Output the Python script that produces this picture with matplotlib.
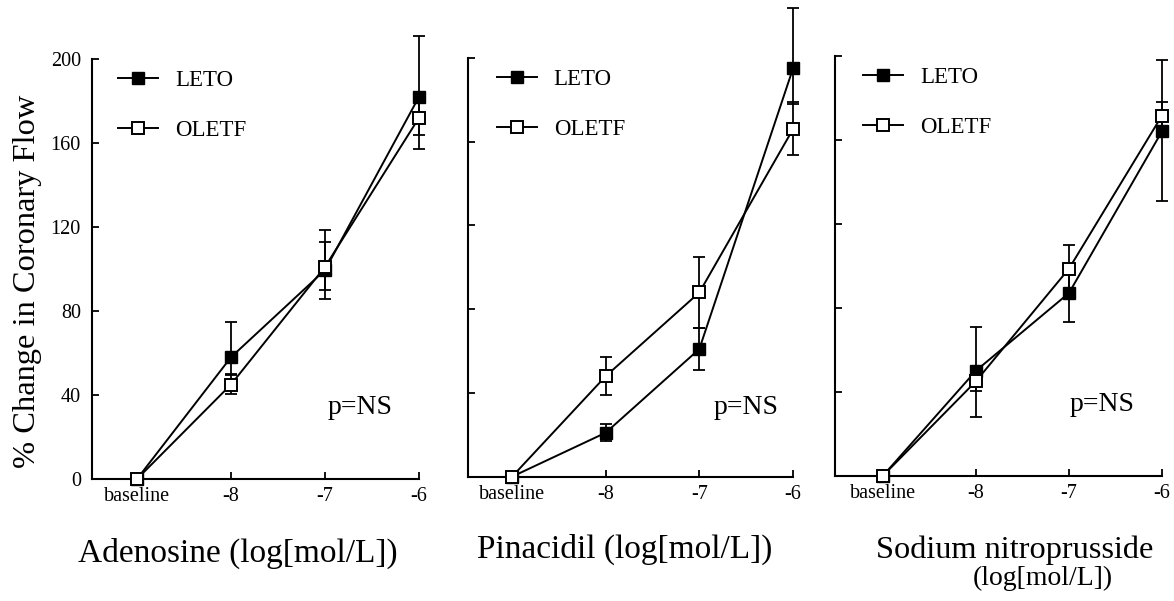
import numpy as np
import matplotlib
matplotlib.use("Agg")
import matplotlib.pyplot as plt
from matplotlib.lines import Line2D

plt.rcParams['font.family'] = ['Liberation Serif', 'DejaVu Serif']

# ---- data ----
x_labels = ["baseline", "-8", "-7", "-6"]
y_ticks = [0, 40, 80, 120, 160, 200]
panel_titles = ["Adenosine (log[mol/L])", "Pinacidil (log[mol/L])",
                "Sodium nitroprusside", "(log[mol/L])"]
series_names = ["LETO", "OLETF"]

aden_leto = [0, 58, 99.5, 182]
aden_leto_lo = [0, 8, 14, 18]
aden_leto_hi = [0, 17, 19, 29]
aden_oletf = [0, 45, 101, 172]
aden_oletf_lo = [0, 4.5, 11, 15]
aden_oletf_hi = [0, 4.5, 12, 10]

pina_leto = [0, 21, 61, 195]
pina_leto_lo = [0, 4, 10, 17]
pina_leto_hi = [0, 4, 10, 29]
pina_oletf = [0, 48, 88, 166]
pina_oletf_lo = [0, 9, 17, 12.5]
pina_oletf_hi = [0, 9, 17, 13]

snp_leto = [0, 50, 87, 164]
snp_leto_lo = [0, 22, 14, 33]
snp_leto_hi = [0, 21, 14, 34]
snp_oletf = [0, 45, 98.6, 171.5]
snp_oletf_lo = [0, 4.5, 11, 7]
snp_oletf_hi = [0, 5, 11.4, 6.5]

panels = [
    (aden_leto, aden_leto_lo, aden_leto_hi, aden_oletf, aden_oletf_lo, aden_oletf_hi),
    (pina_leto, pina_leto_lo, pina_leto_hi, pina_oletf, pina_oletf_lo, pina_oletf_hi),
    (snp_leto, snp_leto_lo, snp_leto_hi, snp_oletf, snp_oletf_lo, snp_oletf_hi),
]

W, H = 1174, 601
fig = plt.figure(figsize=(W / 100, H / 100), dpi=100)

# axes rectangles in pixels: left, right, y0(bottom), ytop
rects = [(92, 419, 479, 59), (468, 793, 476.7, 58), (835, 1162, 475.7, 55.7)]
xleft = [-0.479, -0.47, -0.516]
ns_pos = [(2.03, 34), (2.15, 33), (2.01, 34)]
leg_anchor = [(0.0795, 0.974), (0.089, 0.974), (0.086, 0.973)]

x = np.arange(len(x_labels))
lw = 1.4
ms = 9
for i, (l, llo, lhi, o, olo, ohi) in enumerate(panels):
    L, R, B, T = rects[i]
    ax = fig.add_axes([L / W, 1 - B / H, (R - L) / W, (B - T) / H])
    ax.set_xlim(xleft[i], 3.0)
    ax.set_ylim(0, 200)
    for s in ['top', 'right']:
        ax.spines[s].set_visible(False)
    for s in ['left', 'bottom']:
        ax.spines[s].set_linewidth(1.5)
    ax.set_xticks(x)
    ax.set_xticklabels(x_labels)
    ax.set_yticks(y_ticks)
    if i == 0:
        ax.set_yticklabels([str(t) for t in y_ticks])
    else:
        ax.set_yticklabels([])
    ax.tick_params(direction='in', length=5, width=1.3, labelsize=14.5)
    ax.tick_params(axis='x', pad=6)
    ax.tick_params(axis='y', pad=8)

    # error bars (non-baseline points)
    ax.errorbar(x[1:], l[1:], yerr=[llo[1:], lhi[1:]], fmt='none',
                ecolor='black', elinewidth=1.3, capsize=4.3, capthick=1.3,
                clip_on=False, zorder=3)
    ax.errorbar(x[1:], o[1:], yerr=[olo[1:], ohi[1:]], fmt='none',
                ecolor='black', elinewidth=1.3, capsize=4.3, capthick=1.3,
                clip_on=False, zorder=3)
    ax.plot(x, l, color='black', lw=lw, marker='s', markersize=ms,
            markerfacecolor='black', markeredgecolor='black', clip_on=False,
            zorder=4)
    ax.plot(x, o, color='black', lw=lw, marker='s', markersize=ms,
            markerfacecolor='white', markeredgecolor='black',
            markeredgewidth=1.4, clip_on=False, zorder=5)

    handles = [
        Line2D([], [], color='black', lw=lw, marker='s', markersize=ms,
               markerfacecolor='black', markeredgecolor='black'),
        Line2D([], [], color='black', lw=lw, marker='s', markersize=ms,
               markerfacecolor='white', markeredgecolor='black',
               markeredgewidth=1.4),
    ]
    ax.legend(handles, series_names, loc='upper left',
              bbox_to_anchor=leg_anchor[i], frameon=False, fontsize=16.5,
              handlelength=1.74, handletextpad=0.74, labelspacing=1.25,
              borderpad=0, borderaxespad=0, numpoints=1)
    ax.text(ns_pos[i][0], ns_pos[i][1], "p=NS", fontsize=20,
            ha='left', va='center')

# y label
fig.text(28 / W, 1 - 281 / H, "% Change in Coronary Flow", rotation=90,
         fontsize=23.4, ha='center', va='center')

# x titles
fig.text(237.5 / W, 1 - 562 / H, panel_titles[0], fontsize=24,
         ha='center', va='baseline')
fig.text(625 / W, 1 - 558 / H, panel_titles[1], fontsize=24,
         ha='center', va='baseline')
fig.text(1015 / W, 1 - 558 / H, panel_titles[2], fontsize=23.3,
         ha='center', va='baseline')
fig.text(1043 / W, 1 - 585 / H, panel_titles[3], fontsize=20,
         ha='center', va='baseline')

fig.savefig("out.png", dpi=100)
